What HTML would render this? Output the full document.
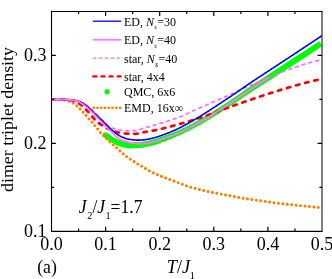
<!DOCTYPE html>
<html><head><meta charset="utf-8"><style>
html,body{margin:0;padding:0;background:#fff;}
body{width:332px;height:279px;overflow:hidden;position:relative;font-family:"Liberation Serif",serif;}
</style></head><body>
<svg width="332" height="279" viewBox="0 0 332 279" style="position:absolute;left:0;top:0;will-change:transform">
<defs><clipPath id="c"><rect x="51.5" y="11.3" width="270.5" height="220.0"/></clipPath></defs>
<g fill="none" stroke-linecap="butt" stroke-linejoin="round" clip-path="url(#c)">
<path d="M103.69,137.22 L104.24,137.66 L104.81,138.10 L105.37,138.54 L105.94,138.96 L106.50,139.37 L107.07,139.78 L107.64,140.17 L108.21,140.55 L108.78,140.92 L109.34,141.28 L109.91,141.64 L110.48,141.98 L111.05,142.31 L111.62,142.63 L112.17,142.94 L112.72,143.24 L113.28,143.55 L113.84,143.85 L114.41,144.15 L114.99,144.44 L115.58,144.72 L116.19,144.99 L116.80,145.25 L117.39,145.48 L117.96,145.69 L118.53,145.90 L119.10,146.10 L119.67,146.29 L120.25,146.48 L120.82,146.65 L121.40,146.82 L121.98,146.98 L122.56,147.14 L123.14,147.28 L123.69,147.41 L124.21,147.53 L124.74,147.66 L125.29,147.80 L125.86,147.93 L126.44,148.06 L127.05,148.18 L127.67,148.29 L128.30,148.39 L128.96,148.46 L129.64,148.50 L130.31,148.51 L130.94,148.50 L131.55,148.47 L132.14,148.42 L132.71,148.37 L133.26,148.33 L133.79,148.28 L134.29,148.24 L134.78,148.21 L135.28,148.18 L135.79,148.16 L136.32,148.14 L136.85,148.12 L137.39,148.10 L137.95,148.08 L138.50,148.05 L139.07,148.02 L139.66,147.99 L140.27,147.93 L140.89,147.87 L141.49,147.78 L142.07,147.69 L142.64,147.59 L143.20,147.49 L143.74,147.40 L144.27,147.30 L144.80,147.21 L145.35,147.11 L145.91,147.01 L146.46,146.91 L147.02,146.80 L147.57,146.69 L148.13,146.58 L148.68,146.46 L149.24,146.34 L149.80,146.22 L150.36,146.09 L150.92,145.95 L151.48,145.82 L152.03,145.68 L152.59,145.53 L153.15,145.38 L153.70,145.23 L154.26,145.08 L154.83,144.91 L155.39,144.74 L155.95,144.57 L156.51,144.39 L157.06,144.21 L157.62,144.03 L158.17,143.85 L158.71,143.66 L159.27,143.47 L159.83,143.28 L160.39,143.08 L160.94,142.87 L161.49,142.66 L162.03,142.46 L162.57,142.25 L163.11,142.04 L163.64,141.84 L164.18,141.63 L164.72,141.42 L165.26,141.21 L165.81,141.00 L166.35,140.79 L166.89,140.58 L167.43,140.37 L167.97,140.15 L168.51,139.94 L169.05,139.73 L169.59,139.51 L170.13,139.30 L170.67,139.09 L171.21,138.87 L171.75,138.65 L172.30,138.43 L172.85,138.20 L173.39,137.98 L173.94,137.75 L174.48,137.52 L175.02,137.29 L175.57,137.06 L176.11,136.82 L176.66,136.59 L177.20,136.35 L177.74,136.11 L178.29,135.87 L178.83,135.63 L179.38,135.38 L179.92,135.14 L180.47,134.89 L181.01,134.64 L181.55,134.38 L182.10,134.13 L182.65,133.87 L183.19,133.61 L183.74,133.34 L184.28,133.08 L184.83,132.81 L185.37,132.55 L185.91,132.28 L186.46,132.02 L187.00,131.76 L187.54,131.49 L188.09,131.23 L188.63,130.96 L189.17,130.69 L189.72,130.42 L190.26,130.15 L190.81,129.88 L191.36,129.60 L191.90,129.32 L192.45,129.04 L192.99,128.76 L193.54,128.48 L194.08,128.19 L194.63,127.91 L195.18,127.62 L195.73,127.33 L196.27,127.03 L196.82,126.74 L197.37,126.44 L197.92,126.13 L198.46,125.83 L199.01,125.52 L199.56,125.22 L200.10,124.91 L200.65,124.60 L201.19,124.28 L201.74,123.97 L202.29,123.65 L202.83,123.33 L203.38,123.01 L203.92,122.69 L204.47,122.36 L205.01,122.04 L205.55,121.72 L206.09,121.39 L206.63,121.07 L207.18,120.74 L207.72,120.41 L208.26,120.08 L208.81,119.75 L209.35,119.42 L209.89,119.09 L210.43,118.76 L210.97,118.43 L211.52,118.10 L212.06,117.76 L212.60,117.43 L213.14,117.09 L213.68,116.76 L214.23,116.42 L214.77,116.09 L215.31,115.75 L215.85,115.41 L216.39,115.07 L216.94,114.73 L217.48,114.39 L218.02,114.05 L218.56,113.71 L219.10,113.37 L219.64,113.03 L220.19,112.68 L220.73,112.34 L221.27,112.00 L221.81,111.65 L222.35,111.31 L222.90,110.96 L223.44,110.61 L223.98,110.27 L224.52,109.92 L225.06,109.57 L225.60,109.22 L226.14,108.87 L226.68,108.53 L227.23,108.18 L227.77,107.82 L228.31,107.47 L228.85,107.12 L229.39,106.77 L229.93,106.42 L230.47,106.06 L231.02,105.71 L231.56,105.36 L232.10,105.00 L232.65,104.64 L233.19,104.28 L233.73,103.92 L234.28,103.56 L234.82,103.20 L235.37,102.83 L235.91,102.46 L236.45,102.10 L236.99,101.73 L237.54,101.37 L238.08,101.00 L238.63,100.64 L239.17,100.27 L239.72,99.91 L240.26,99.54 L240.81,99.17 L241.35,98.81 L241.89,98.44 L242.43,98.07 L242.98,97.71 L243.52,97.34 L244.06,96.97 L244.61,96.60 L245.15,96.24 L245.69,95.87 L246.24,95.50 L246.78,95.14 L247.32,94.77 L247.86,94.41 L248.40,94.04 L248.94,93.68 L249.49,93.31 L250.03,92.95 L250.57,92.59 L251.11,92.23 L251.65,91.87 L252.19,91.51 L252.73,91.15 L253.27,90.80 L253.81,90.44 L254.35,90.09 L254.89,89.73 L255.43,89.38 L255.97,89.03 L256.51,88.68 L257.05,88.33 L257.59,87.98 L258.12,87.64 L258.66,87.29 L259.20,86.95 L259.74,86.61 L260.29,86.26 L260.83,85.92 L261.37,85.57 L261.92,85.23 L262.46,84.88 L263.00,84.53 L263.54,84.19 L264.09,83.84 L264.63,83.50 L265.17,83.15 L265.71,82.81 L266.26,82.46 L266.80,82.12 L267.34,81.77 L267.88,81.43 L268.43,81.09 L268.97,80.74 L269.51,80.40 L270.06,80.05 L270.60,79.70 L271.14,79.36 L271.68,79.01 L272.22,78.67 L272.77,78.32 L273.31,77.98 L273.85,77.63 L274.39,77.29 L274.93,76.94 L275.48,76.60 L276.02,76.25 L276.56,75.90 L277.10,75.56 L277.65,75.21 L278.19,74.87 L278.73,74.52 L279.27,74.18 L279.82,73.83 L280.36,73.48 L280.90,73.14 L281.44,72.79 L281.99,72.45 L282.53,72.10 L283.07,71.75 L283.61,71.41 L284.16,71.06 L284.70,70.71 L285.24,70.37 L285.78,70.02 L286.33,69.67 L286.87,69.33 L287.41,68.98 L287.95,68.63 L288.50,68.29 L289.04,67.94 L289.58,67.59 L290.12,67.24 L290.67,66.90 L291.21,66.55 L291.75,66.20 L292.29,65.85 L292.84,65.50 L293.38,65.15 L293.92,64.81 L294.46,64.46 L295.01,64.11 L295.55,63.76 L296.09,63.41 L296.64,63.06 L297.17,62.70 L297.71,62.35 L298.25,61.99 L298.79,61.64 L299.33,61.28 L299.87,60.93 L300.41,60.57 L300.94,60.22 L301.48,59.86 L302.02,59.50 L302.56,59.15 L303.10,58.79 L303.64,58.43 L304.18,58.08 L304.72,57.72 L305.25,57.37 L305.79,57.01 L306.33,56.65 L306.87,56.30 L307.41,55.94 L307.95,55.58 L308.49,55.23 L309.02,54.87 L309.56,54.51 L310.10,54.15 L310.64,53.80 L311.18,53.44 L311.72,53.08 L312.26,52.72 L312.80,52.37 L313.33,52.01 L313.87,51.65 L314.41,51.29 L314.95,50.94 L315.49,50.58 L316.03,50.22 L316.57,49.86 L317.10,49.50 L317.64,49.15 L318.18,48.79 L318.72,48.43 L319.26,48.07 L319.80,47.71 L320.34,47.35 L320.87,46.99 L321.41,46.64 L321.95,46.28 L322.49,45.92 L319.35,41.15 L318.80,41.50 L318.26,41.86 L317.72,42.21 L317.18,42.56 L316.64,42.92 L316.10,43.27 L315.56,43.62 L315.01,43.98 L314.47,44.33 L313.93,44.68 L313.39,45.04 L312.85,45.39 L312.31,45.74 L311.76,46.09 L311.22,46.45 L310.68,46.80 L310.14,47.15 L309.60,47.50 L309.06,47.86 L308.52,48.21 L307.97,48.56 L307.43,48.91 L306.89,49.26 L306.35,49.62 L305.81,49.97 L305.27,50.32 L304.73,50.67 L304.18,51.02 L303.64,51.37 L303.10,51.73 L302.56,52.08 L302.02,52.43 L301.48,52.78 L300.94,53.13 L300.39,53.48 L299.85,53.83 L299.31,54.18 L298.77,54.53 L298.23,54.88 L297.69,55.23 L297.15,55.59 L296.60,55.94 L296.06,56.29 L295.52,56.64 L294.98,56.99 L294.44,57.34 L293.90,57.69 L293.36,58.04 L292.82,58.39 L292.28,58.75 L291.74,59.10 L291.21,59.46 L290.67,59.81 L290.13,60.17 L289.59,60.52 L289.06,60.88 L288.52,61.23 L287.98,61.58 L287.44,61.94 L286.91,62.29 L286.37,62.65 L285.83,63.00 L285.29,63.35 L284.76,63.71 L284.22,64.06 L283.68,64.41 L283.14,64.77 L282.61,65.12 L282.07,65.47 L281.53,65.83 L280.99,66.18 L280.46,66.53 L279.92,66.88 L279.38,67.24 L278.84,67.59 L278.31,67.94 L277.77,68.29 L277.23,68.65 L276.69,69.00 L276.15,69.35 L275.62,69.70 L275.08,70.06 L274.54,70.41 L274.00,70.76 L273.47,71.11 L272.93,71.46 L272.39,71.82 L271.85,72.17 L271.31,72.52 L270.78,72.87 L270.24,73.23 L269.70,73.58 L269.16,73.93 L268.62,74.28 L268.09,74.63 L267.55,74.99 L267.01,75.34 L266.47,75.69 L265.94,76.04 L265.40,76.40 L264.86,76.75 L264.32,77.10 L263.79,77.46 L263.25,77.81 L262.71,78.16 L262.17,78.52 L261.64,78.87 L261.10,79.22 L260.56,79.58 L260.02,79.93 L259.49,80.29 L258.95,80.64 L258.41,80.99 L257.88,81.35 L257.34,81.70 L256.80,82.05 L256.26,82.41 L255.72,82.76 L255.18,83.12 L254.64,83.48 L254.10,83.84 L253.56,84.20 L253.02,84.56 L252.48,84.93 L251.94,85.29 L251.40,85.66 L250.86,86.03 L250.32,86.39 L249.78,86.76 L249.24,87.13 L248.69,87.50 L248.15,87.87 L247.61,88.25 L247.08,88.62 L246.54,88.99 L246.00,89.37 L245.46,89.74 L244.92,90.11 L244.38,90.49 L243.84,90.86 L243.31,91.24 L242.77,91.62 L242.23,91.99 L241.69,92.37 L241.16,92.74 L240.62,93.12 L240.08,93.49 L239.55,93.87 L239.01,94.24 L238.47,94.62 L237.94,94.99 L237.40,95.36 L236.86,95.74 L236.33,96.11 L235.79,96.48 L235.26,96.85 L234.72,97.22 L234.19,97.59 L233.65,97.96 L233.11,98.32 L232.57,98.68 L232.04,99.04 L231.50,99.40 L230.97,99.76 L230.43,100.11 L229.89,100.47 L229.36,100.82 L228.82,101.17 L228.28,101.53 L227.74,101.88 L227.20,102.23 L226.67,102.58 L226.13,102.93 L225.59,103.28 L225.05,103.63 L224.51,103.98 L223.97,104.32 L223.43,104.67 L222.90,105.02 L222.36,105.37 L221.82,105.71 L221.28,106.06 L220.74,106.40 L220.20,106.75 L219.66,107.09 L219.13,107.43 L218.59,107.78 L218.05,108.12 L217.51,108.46 L216.97,108.80 L216.43,109.14 L215.89,109.48 L215.36,109.82 L214.82,110.16 L214.28,110.50 L213.74,110.83 L213.20,111.17 L212.67,111.51 L212.13,111.84 L211.59,112.18 L211.05,112.51 L210.51,112.84 L209.97,113.17 L209.44,113.51 L208.90,113.84 L208.36,114.17 L207.82,114.50 L207.29,114.82 L206.75,115.15 L206.21,115.48 L205.67,115.81 L205.13,116.13 L204.60,116.46 L204.06,116.78 L203.52,117.10 L202.98,117.42 L202.45,117.75 L201.91,118.07 L201.37,118.39 L200.83,118.70 L200.30,119.02 L199.77,119.33 L199.23,119.64 L198.70,119.95 L198.17,120.26 L197.63,120.56 L197.10,120.86 L196.56,121.16 L196.03,121.46 L195.50,121.76 L194.96,122.05 L194.43,122.34 L193.90,122.63 L193.37,122.92 L192.83,123.20 L192.30,123.48 L191.77,123.76 L191.23,124.04 L190.70,124.32 L190.16,124.59 L189.63,124.87 L189.09,125.14 L188.56,125.41 L188.03,125.68 L187.49,125.94 L186.96,126.21 L186.42,126.47 L185.89,126.74 L185.35,127.00 L184.81,127.26 L184.27,127.52 L183.74,127.78 L183.20,128.04 L182.66,128.30 L182.13,128.54 L181.59,128.79 L181.06,129.03 L180.52,129.27 L179.99,129.51 L179.45,129.75 L178.92,129.98 L178.38,130.22 L177.85,130.45 L177.31,130.67 L176.78,130.90 L176.24,131.13 L175.70,131.35 L175.17,131.57 L174.63,131.79 L174.10,132.01 L173.56,132.23 L173.02,132.44 L172.49,132.65 L171.95,132.86 L171.42,133.07 L170.88,133.28 L170.35,133.49 L169.81,133.69 L169.28,133.89 L168.74,134.09 L168.20,134.29 L167.66,134.49 L167.12,134.69 L166.58,134.89 L166.04,135.09 L165.50,135.29 L164.96,135.48 L164.42,135.68 L163.88,135.88 L163.34,136.07 L162.80,136.27 L162.26,136.46 L161.72,136.65 L161.18,136.85 L160.64,137.04 L160.10,137.24 L159.56,137.43 L159.03,137.61 L158.50,137.80 L157.98,137.98 L157.46,138.16 L156.93,138.33 L156.40,138.50 L155.87,138.67 L155.34,138.84 L154.82,139.00 L154.29,139.16 L153.78,139.32 L153.26,139.46 L152.74,139.61 L152.22,139.74 L151.70,139.88 L151.17,140.01 L150.65,140.14 L150.13,140.27 L149.61,140.39 L149.09,140.51 L148.57,140.62 L148.04,140.73 L147.52,140.84 L147.00,140.94 L146.47,141.04 L145.94,141.14 L145.42,141.23 L144.89,141.32 L144.37,141.41 L143.84,141.50 L143.29,141.59 L142.74,141.68 L142.20,141.77 L141.68,141.86 L141.17,141.94 L140.67,142.01 L140.19,142.07 L139.73,142.12 L139.26,142.15 L138.77,142.17 L138.26,142.19 L137.74,142.21 L137.21,142.23 L136.67,142.24 L136.12,142.25 L135.57,142.27 L135.00,142.29 L134.42,142.32 L133.83,142.37 L133.26,142.42 L132.70,142.48 L132.17,142.53 L131.66,142.58 L131.17,142.62 L130.70,142.65 L130.25,142.66 L129.84,142.66 L129.44,142.64 L129.02,142.60 L128.57,142.54 L128.11,142.46 L127.64,142.37 L127.14,142.26 L126.63,142.15 L126.09,142.02 L125.55,141.89 L124.99,141.77 L124.46,141.65 L123.96,141.53 L123.46,141.40 L122.96,141.27 L122.46,141.13 L121.95,140.98 L121.45,140.82 L120.94,140.65 L120.43,140.48 L119.92,140.30 L119.41,140.12 L118.92,139.93 L118.45,139.74 L117.97,139.53 L117.48,139.30 L116.99,139.06 L116.48,138.80 L115.96,138.53 L115.44,138.25 L114.90,137.96 L114.38,137.67 L113.86,137.39 L113.35,137.10 L112.84,136.79 L112.33,136.48 L111.82,136.16 L111.31,135.83 L110.80,135.50 L110.29,135.15 L109.77,134.79 L109.26,134.43 L108.75,134.05 L108.23,133.66 L107.71,133.26 L107.18,132.84Z" fill="#00ff00" stroke="none"/>
<circle cx="105.44" cy="135.03" r="2.8" fill="#00ff00"/>
<path d="M51.50,99.56 L52.40,99.57 L53.31,99.57 L54.21,99.58 L55.12,99.58 L56.02,99.59 L56.93,99.61 L57.83,99.62 L58.74,99.64 L59.64,99.66 L60.55,99.69 L61.45,99.71 L62.36,99.74 L63.26,99.81 L64.17,99.95 L65.07,100.15 L65.97,100.39 L66.88,100.67 L67.78,100.97 L68.69,101.28 L69.59,101.58 L70.50,101.89 L71.40,102.25 L72.31,102.65 L73.21,103.12 L74.12,103.70 L75.02,104.41 L75.93,105.19 L76.83,105.99 L77.74,106.81 L78.64,107.67 L79.55,108.55 L80.45,109.42 L81.35,110.29 L82.26,111.19 L83.16,112.13 L84.07,113.12 L84.97,114.14 L85.88,115.19 L86.78,116.29 L87.69,117.42 L88.59,118.52 L89.50,119.54 L90.40,120.48 L91.31,121.42 L92.21,122.44 L93.12,123.53 L94.02,124.67 L94.92,125.79 L95.83,126.87 L96.73,127.93 L97.64,129.01 L98.54,130.15 L99.45,131.37 L100.35,132.52 L101.26,133.48 L102.16,134.32 L103.07,135.12 L103.97,135.95 L104.88,136.88 L105.78,137.88 L106.69,138.87 L107.59,139.80 L108.49,140.68 L109.40,141.54 L110.30,142.38 L111.21,143.22 L112.11,144.06 L113.02,144.88 L113.92,145.67 L114.83,146.40 L115.73,147.08 L116.64,147.78 L117.54,148.53 L118.45,149.38 L119.35,150.30 L120.26,151.20 L121.16,152.03 L122.07,152.83 L122.97,153.60 L123.87,154.36 L124.78,155.10 L125.68,155.82 L126.59,156.52 L127.49,157.20 L128.40,157.86 L129.30,158.50 L130.21,159.12 L131.11,159.73 L132.02,160.33 L132.92,160.92 L133.83,161.50 L134.73,162.07 L135.64,162.64 L136.54,163.20 L137.44,163.75 L138.35,164.30 L139.25,164.84 L140.16,165.37 L141.06,165.90 L141.97,166.43 L142.87,166.96 L143.78,167.50 L144.68,168.04 L145.59,168.59 L146.49,169.13 L147.40,169.67 L148.30,170.19 L149.21,170.71 L150.11,171.20 L151.02,171.68 L151.92,172.13 L152.82,172.57 L153.73,173.00 L154.63,173.42 L155.54,173.83 L156.44,174.23 L157.35,174.62 L158.25,175.01 L159.16,175.40 L160.06,175.78 L160.97,176.15 L161.87,176.52 L162.78,176.88 L163.68,177.23 L164.59,177.58 L165.49,177.93 L166.39,178.28 L167.30,178.63 L168.20,178.97 L169.11,179.32 L170.01,179.66 L170.92,179.99 L171.82,180.33 L172.73,180.66 L173.63,181.00 L174.54,181.33 L175.44,181.66 L176.35,182.00 L177.25,182.34 L178.16,182.69 L179.06,183.03 L179.96,183.38 L180.87,183.74 L181.77,184.09 L182.68,184.44 L183.58,184.78 L184.49,185.12 L185.39,185.45 L186.30,185.78 L187.20,186.09 L188.11,186.40 L189.01,186.69 L189.92,186.97 L190.82,187.24 L191.73,187.50 L192.63,187.76 L193.54,188.00 L194.44,188.25 L195.34,188.49 L196.25,188.72 L197.15,188.95 L198.06,189.17 L198.96,189.40 L199.87,189.62 L200.77,189.84 L201.68,190.05 L202.58,190.27 L203.49,190.48 L204.39,190.69 L205.30,190.89 L206.20,191.09 L207.11,191.29 L208.01,191.49 L208.91,191.68 L209.82,191.88 L210.72,192.07 L211.63,192.26 L212.53,192.45 L213.44,192.64 L214.34,192.82 L215.25,193.01 L216.15,193.19 L217.06,193.37 L217.96,193.55 L218.87,193.73 L219.77,193.91 L220.68,194.08 L221.58,194.26 L222.48,194.43 L223.39,194.60 L224.29,194.78 L225.20,194.95 L226.10,195.12 L227.01,195.28 L227.91,195.45 L228.82,195.62 L229.72,195.79 L230.63,195.95 L231.53,196.12 L232.44,196.28 L233.34,196.45 L234.25,196.61 L235.15,196.77 L236.06,196.93 L236.96,197.09 L237.86,197.25 L238.77,197.41 L239.67,197.57 L240.58,197.72 L241.48,197.88 L242.39,198.03 L243.29,198.18 L244.20,198.33 L245.10,198.48 L246.01,198.63 L246.91,198.78 L247.82,198.93 L248.72,199.08 L249.63,199.22 L250.53,199.36 L251.43,199.50 L252.34,199.64 L253.24,199.78 L254.15,199.92 L255.05,200.05 L255.96,200.18 L256.86,200.31 L257.77,200.44 L258.67,200.56 L259.58,200.69 L260.48,200.81 L261.39,200.94 L262.29,201.06 L263.20,201.19 L264.10,201.31 L265.01,201.44 L265.91,201.56 L266.81,201.69 L267.72,201.81 L268.62,201.94 L269.53,202.06 L270.43,202.19 L271.34,202.31 L272.24,202.43 L273.15,202.56 L274.05,202.68 L274.96,202.80 L275.86,202.92 L276.77,203.03 L277.67,203.15 L278.58,203.26 L279.48,203.38 L280.38,203.49 L281.29,203.60 L282.19,203.71 L283.10,203.82 L284.00,203.92 L284.91,204.03 L285.81,204.14 L286.72,204.24 L287.62,204.34 L288.53,204.45 L289.43,204.55 L290.34,204.65 L291.24,204.75 L292.15,204.84 L293.05,204.94 L293.95,205.04 L294.86,205.13 L295.76,205.22 L296.67,205.31 L297.57,205.40 L298.48,205.49 L299.38,205.58 L300.29,205.67 L301.19,205.75 L302.10,205.84 L303.00,205.93 L303.91,206.01 L304.81,206.10 L305.72,206.19 L306.62,206.27 L307.53,206.36 L308.43,206.45 L309.33,206.54 L310.24,206.63 L311.14,206.72 L312.05,206.81 L312.95,206.90 L313.86,206.99 L314.76,207.08 L315.67,207.17 L316.57,207.26 L317.48,207.35 L318.38,207.44 L319.29,207.53 L320.19,207.62 L321.10,207.71 L322.00,207.80" stroke="#ff8000" stroke-width="3.0" stroke-linecap="round" stroke-dasharray="0.01 4.45"/>
<path d="M51.50,99.56 L52.18,99.56 L52.86,99.57 L53.53,99.57 L54.21,99.57 L54.89,99.57 L55.57,99.57 L56.25,99.58 L56.92,99.58 L57.60,99.59 L58.28,99.59 L58.96,99.60 L59.64,99.60 L60.31,99.61 L60.99,99.62 L61.67,99.63 L62.35,99.64 L63.03,99.65 L63.70,99.66 L64.38,99.67 L65.06,99.68 L65.74,99.70 L66.41,99.71 L67.09,99.73 L67.77,99.74 L68.45,99.78 L69.13,99.84 L69.80,99.93 L70.48,100.04 L71.16,100.17 L71.84,100.32 L72.52,100.47 L73.19,100.63 L73.87,100.82 L74.55,101.06 L75.23,101.34 L75.91,101.65 L76.58,101.99 L77.26,102.34 L77.94,102.72 L78.62,103.12 L79.30,103.56 L79.97,104.05 L80.65,104.58 L81.33,105.14 L82.01,105.73 L82.69,106.34 L83.36,106.96 L84.04,107.58 L84.72,108.23 L85.40,108.93 L86.08,109.66 L86.75,110.41 L87.43,111.18 L88.11,111.97 L88.79,112.75 L89.46,113.52 L90.14,114.28 L90.82,115.04 L91.50,115.82 L92.18,116.61 L92.85,117.40 L93.53,118.18 L94.21,118.93 L94.89,119.66 L95.57,120.34 L96.24,120.96 L96.92,121.55 L97.60,122.11 L98.28,122.66 L98.96,123.18 L99.63,123.68 L100.31,124.17 L100.99,124.64 L101.67,125.09 L102.35,125.53 L103.02,125.96 L103.70,126.37 L104.38,126.78 L105.06,127.18 L105.74,127.56 L106.41,127.94 L107.09,128.31 L107.77,128.66 L108.45,128.99 L109.13,129.32 L109.80,129.62 L110.48,129.91 L111.16,130.18 L111.84,130.44 L112.52,130.70 L113.19,130.95 L113.87,131.19 L114.55,131.42 L115.23,131.64 L115.90,131.84 L116.58,132.03 L117.26,132.20 L117.94,132.36 L118.62,132.49 L119.29,132.63 L119.97,132.76 L120.65,132.89 L121.33,133.01 L122.01,133.13 L122.68,133.24 L123.36,133.33 L124.04,133.42 L124.72,133.49 L125.40,133.55 L126.07,133.60 L126.75,133.63 L127.43,133.65 L128.11,133.67 L128.79,133.69 L129.46,133.71 L130.14,133.73 L130.82,133.75 L131.50,133.76 L132.18,133.77 L132.85,133.78 L133.53,133.79 L134.21,133.79 L134.89,133.80 L135.57,133.79 L136.24,133.76 L136.92,133.70 L137.60,133.61 L138.28,133.50 L138.95,133.37 L139.63,133.22 L140.31,133.06 L140.99,132.89 L141.67,132.72 L142.34,132.55 L143.02,132.39 L143.70,132.24 L144.38,132.09 L145.06,131.96 L145.73,131.85 L146.41,131.75 L147.09,131.64 L147.77,131.54 L148.45,131.43 L149.12,131.32 L149.80,131.21 L150.48,131.09 L151.16,130.97 L151.84,130.85 L152.51,130.73 L153.19,130.60 L153.87,130.47 L154.55,130.34 L155.23,130.20 L155.90,130.06 L156.58,129.92 L157.26,129.78 L157.94,129.64 L158.62,129.49 L159.29,129.34 L159.97,129.18 L160.65,129.03 L161.33,128.87 L162.01,128.71 L162.68,128.55 L163.36,128.39 L164.04,128.22 L164.72,128.05 L165.39,127.88 L166.07,127.71 L166.75,127.54 L167.43,127.36 L168.11,127.18 L168.78,127.00 L169.46,126.82 L170.14,126.64 L170.82,126.45 L171.50,126.27 L172.17,126.08 L172.85,125.89 L173.53,125.71 L174.21,125.52 L174.89,125.33 L175.56,125.14 L176.24,124.96 L176.92,124.77 L177.60,124.58 L178.28,124.39 L178.95,124.20 L179.63,124.01 L180.31,123.82 L180.99,123.62 L181.67,123.43 L182.34,123.24 L183.02,123.04 L183.70,122.85 L184.38,122.65 L185.06,122.45 L185.73,122.26 L186.41,122.06 L187.09,121.86 L187.77,121.66 L188.44,121.46 L189.12,121.25 L189.80,121.05 L190.48,120.84 L191.16,120.64 L191.83,120.43 L192.51,120.22 L193.19,120.01 L193.87,119.80 L194.55,119.59 L195.22,119.38 L195.90,119.16 L196.58,118.95 L197.26,118.73 L197.94,118.51 L198.61,118.29 L199.29,118.07 L199.97,117.85 L200.65,117.62 L201.33,117.39 L202.00,117.17 L202.68,116.94 L203.36,116.70 L204.04,116.47 L204.72,116.24 L205.39,116.00 L206.07,115.76 L206.75,115.52 L207.43,115.28 L208.11,115.03 L208.78,114.79 L209.46,114.54 L210.14,114.30 L210.82,114.05 L211.49,113.80 L212.17,113.55 L212.85,113.30 L213.53,113.05 L214.21,112.80 L214.88,112.54 L215.56,112.29 L216.24,112.04 L216.92,111.78 L217.60,111.53 L218.27,111.27 L218.95,111.02 L219.63,110.76 L220.31,110.51 L220.99,110.25 L221.66,110.00 L222.34,109.74 L223.02,109.49 L223.70,109.23 L224.38,108.98 L225.05,108.72 L225.73,108.47 L226.41,108.22 L227.09,107.97 L227.77,107.72 L228.44,107.47 L229.12,107.22 L229.80,106.97 L230.48,106.72 L231.16,106.48 L231.83,106.23 L232.51,105.99 L233.19,105.75 L233.87,105.50 L234.55,105.27 L235.22,105.03 L235.90,104.79 L236.58,104.56 L237.26,104.32 L237.93,104.08 L238.61,103.85 L239.29,103.61 L239.97,103.38 L240.65,103.14 L241.32,102.91 L242.00,102.67 L242.68,102.44 L243.36,102.21 L244.04,101.97 L244.71,101.74 L245.39,101.50 L246.07,101.27 L246.75,101.04 L247.43,100.80 L248.10,100.57 L248.78,100.34 L249.46,100.11 L250.14,99.88 L250.82,99.65 L251.49,99.41 L252.17,99.18 L252.85,98.95 L253.53,98.72 L254.21,98.49 L254.88,98.27 L255.56,98.04 L256.24,97.81 L256.92,97.58 L257.60,97.35 L258.27,97.12 L258.95,96.90 L259.63,96.67 L260.31,96.45 L260.98,96.22 L261.66,95.99 L262.34,95.77 L263.02,95.55 L263.70,95.32 L264.37,95.10 L265.05,94.88 L265.73,94.65 L266.41,94.43 L267.09,94.21 L267.76,93.99 L268.44,93.77 L269.12,93.55 L269.80,93.33 L270.48,93.11 L271.15,92.90 L271.83,92.68 L272.51,92.46 L273.19,92.25 L273.87,92.03 L274.54,91.82 L275.22,91.60 L275.90,91.39 L276.58,91.18 L277.26,90.96 L277.93,90.75 L278.61,90.54 L279.29,90.33 L279.97,90.12 L280.65,89.91 L281.32,89.70 L282.00,89.50 L282.68,89.29 L283.36,89.08 L284.04,88.88 L284.71,88.67 L285.39,88.47 L286.07,88.27 L286.75,88.07 L287.42,87.86 L288.10,87.66 L288.78,87.46 L289.46,87.27 L290.14,87.07 L290.81,86.87 L291.49,86.67 L292.17,86.48 L292.85,86.28 L293.53,86.09 L294.20,85.90 L294.88,85.70 L295.56,85.51 L296.24,85.32 L296.92,85.13 L297.59,84.94 L298.27,84.76 L298.95,84.57 L299.63,84.38 L300.31,84.20 L300.98,84.02 L301.66,83.83 L302.34,83.65 L303.02,83.47 L303.70,83.29 L304.37,83.11 L305.05,82.93 L305.73,82.76 L306.41,82.58 L307.09,82.41 L307.76,82.23 L308.44,82.06 L309.12,81.89 L309.80,81.72 L310.47,81.55 L311.15,81.38 L311.83,81.21 L312.51,81.05 L313.19,80.88 L313.86,80.72 L314.54,80.56 L315.22,80.40 L315.90,80.24 L316.58,80.08 L317.25,79.92 L317.93,79.76 L318.61,79.61 L319.29,79.45 L319.97,79.30 L320.64,79.15 L321.32,79.00 L322.00,78.85" stroke="#ff0000" stroke-width="2.7" stroke-linecap="round" stroke-dasharray="3.5 5.9"/>
<path d="M51.50,99.56 L52.18,99.56 L52.86,99.56 L53.53,99.57 L54.21,99.57 L54.89,99.57 L55.57,99.57 L56.25,99.57 L56.92,99.57 L57.60,99.58 L58.28,99.58 L58.96,99.58 L59.64,99.58 L60.31,99.59 L60.99,99.59 L61.67,99.60 L62.35,99.60 L63.03,99.61 L63.70,99.61 L64.38,99.62 L65.06,99.62 L65.74,99.63 L66.41,99.64 L67.09,99.64 L67.77,99.65 L68.45,99.67 L69.13,99.69 L69.80,99.73 L70.48,99.77 L71.16,99.82 L71.84,99.88 L72.52,99.94 L73.19,100.01 L73.87,100.09 L74.55,100.21 L75.23,100.34 L75.91,100.50 L76.58,100.67 L77.26,100.86 L77.94,101.05 L78.62,101.26 L79.30,101.48 L79.97,101.74 L80.65,102.02 L81.33,102.33 L82.01,102.66 L82.69,103.01 L83.36,103.37 L84.04,103.75 L84.72,104.15 L85.40,104.59 L86.08,105.06 L86.75,105.56 L87.43,106.08 L88.11,106.62 L88.79,107.18 L89.46,107.74 L90.14,108.34 L90.82,108.97 L91.50,109.63 L92.18,110.31 L92.85,111.00 L93.53,111.69 L94.21,112.38 L94.89,113.05 L95.57,113.71 L96.24,114.37 L96.92,115.03 L97.60,115.69 L98.28,116.35 L98.96,117.02 L99.63,117.68 L100.31,118.34 L100.99,119.00 L101.67,119.66 L102.35,120.32 L103.02,120.99 L103.70,121.65 L104.38,122.31 L105.06,122.97 L105.74,123.63 L106.41,124.35 L107.09,125.08 L107.77,125.74 L108.45,126.23 L109.13,126.62 L109.80,126.97 L110.48,127.28 L111.16,127.55 L111.84,127.81 L112.52,128.05 L113.19,128.28 L113.87,128.50 L114.55,128.71 L115.23,128.92 L115.90,129.11 L116.58,129.29 L117.26,129.46 L117.94,129.61 L118.62,129.75 L119.29,129.86 L119.97,129.97 L120.65,130.07 L121.33,130.17 L122.01,130.26 L122.68,130.34 L123.36,130.41 L124.04,130.47 L124.72,130.52 L125.40,130.55 L126.07,130.58 L126.75,130.61 L127.43,130.64 L128.11,130.66 L128.79,130.68 L129.46,130.70 L130.14,130.71 L130.82,130.72 L131.50,130.71 L132.18,130.70 L132.85,130.67 L133.53,130.63 L134.21,130.58 L134.89,130.52 L135.57,130.46 L136.24,130.37 L136.92,130.26 L137.60,130.13 L138.28,129.98 L138.95,129.81 L139.63,129.60 L140.31,129.37 L140.99,129.13 L141.67,128.88 L142.34,128.62 L143.02,128.37 L143.70,128.14 L144.38,127.91 L145.06,127.70 L145.73,127.51 L146.41,127.34 L147.09,127.17 L147.77,126.99 L148.45,126.82 L149.12,126.64 L149.80,126.46 L150.48,126.28 L151.16,126.09 L151.84,125.91 L152.51,125.72 L153.19,125.53 L153.87,125.33 L154.55,125.14 L155.23,124.94 L155.90,124.74 L156.58,124.54 L157.26,124.34 L157.94,124.13 L158.62,123.92 L159.29,123.72 L159.97,123.50 L160.65,123.29 L161.33,123.09 L162.01,122.88 L162.68,122.67 L163.36,122.47 L164.04,122.26 L164.72,122.06 L165.39,121.86 L166.07,121.65 L166.75,121.45 L167.43,121.24 L168.11,121.03 L168.78,120.83 L169.46,120.62 L170.14,120.41 L170.82,120.19 L171.50,119.98 L172.17,119.76 L172.85,119.54 L173.53,119.31 L174.21,119.09 L174.89,118.86 L175.56,118.62 L176.24,118.38 L176.92,118.14 L177.60,117.89 L178.28,117.64 L178.95,117.38 L179.63,117.12 L180.31,116.84 L180.99,116.56 L181.67,116.27 L182.34,115.97 L183.02,115.67 L183.70,115.36 L184.38,115.05 L185.06,114.73 L185.73,114.41 L186.41,114.09 L187.09,113.77 L187.77,113.44 L188.44,113.11 L189.12,112.78 L189.80,112.45 L190.48,112.12 L191.16,111.79 L191.83,111.46 L192.51,111.13 L193.19,110.81 L193.87,110.49 L194.55,110.17 L195.22,109.86 L195.90,109.55 L196.58,109.25 L197.26,108.95 L197.94,108.66 L198.61,108.37 L199.29,108.08 L199.97,107.79 L200.65,107.50 L201.33,107.21 L202.00,106.92 L202.68,106.63 L203.36,106.33 L204.04,106.04 L204.72,105.75 L205.39,105.46 L206.07,105.16 L206.75,104.87 L207.43,104.58 L208.11,104.28 L208.78,103.99 L209.46,103.69 L210.14,103.40 L210.82,103.10 L211.49,102.81 L212.17,102.51 L212.85,102.21 L213.53,101.91 L214.21,101.62 L214.88,101.32 L215.56,101.02 L216.24,100.72 L216.92,100.42 L217.60,100.12 L218.27,99.81 L218.95,99.51 L219.63,99.21 L220.31,98.91 L220.99,98.60 L221.66,98.30 L222.34,98.00 L223.02,97.70 L223.70,97.39 L224.38,97.09 L225.05,96.79 L225.73,96.49 L226.41,96.18 L227.09,95.88 L227.77,95.58 L228.44,95.28 L229.12,94.97 L229.80,94.67 L230.48,94.37 L231.16,94.07 L231.83,93.76 L232.51,93.46 L233.19,93.16 L233.87,92.85 L234.55,92.55 L235.22,92.25 L235.90,91.94 L236.58,91.64 L237.26,91.34 L237.93,91.03 L238.61,90.73 L239.29,90.42 L239.97,90.12 L240.65,89.81 L241.32,89.51 L242.00,89.20 L242.68,88.90 L243.36,88.59 L244.04,88.28 L244.71,87.98 L245.39,87.67 L246.07,87.36 L246.75,87.05 L247.43,86.74 L248.10,86.44 L248.78,86.13 L249.46,85.82 L250.14,85.52 L250.82,85.21 L251.49,84.91 L252.17,84.60 L252.85,84.30 L253.53,84.00 L254.21,83.69 L254.88,83.39 L255.56,83.09 L256.24,82.79 L256.92,82.49 L257.60,82.19 L258.27,81.89 L258.95,81.60 L259.63,81.30 L260.31,81.00 L260.98,80.71 L261.66,80.41 L262.34,80.12 L263.02,79.82 L263.70,79.53 L264.37,79.24 L265.05,78.95 L265.73,78.66 L266.41,78.37 L267.09,78.08 L267.76,77.80 L268.44,77.51 L269.12,77.23 L269.80,76.94 L270.48,76.66 L271.15,76.38 L271.83,76.10 L272.51,75.82 L273.19,75.54 L273.87,75.26 L274.54,74.99 L275.22,74.71 L275.90,74.44 L276.58,74.17 L277.26,73.89 L277.93,73.62 L278.61,73.35 L279.29,73.09 L279.97,72.82 L280.65,72.56 L281.32,72.29 L282.00,72.03 L282.68,71.77 L283.36,71.51 L284.04,71.25 L284.71,70.99 L285.39,70.74 L286.07,70.48 L286.75,70.23 L287.42,69.98 L288.10,69.73 L288.78,69.48 L289.46,69.24 L290.14,68.99 L290.81,68.75 L291.49,68.51 L292.17,68.27 L292.85,68.03 L293.53,67.79 L294.20,67.56 L294.88,67.32 L295.56,67.09 L296.24,66.86 L296.92,66.63 L297.59,66.41 L298.27,66.18 L298.95,65.96 L299.63,65.74 L300.31,65.52 L300.98,65.30 L301.66,65.08 L302.34,64.87 L303.02,64.66 L303.70,64.45 L304.37,64.24 L305.05,64.04 L305.73,63.83 L306.41,63.63 L307.09,63.43 L307.76,63.23 L308.44,63.04 L309.12,62.84 L309.80,62.65 L310.47,62.46 L311.15,62.27 L311.83,62.09 L312.51,61.90 L313.19,61.72 L313.86,61.54 L314.54,61.37 L315.22,61.19 L315.90,61.02 L316.58,60.85 L317.25,60.68 L317.93,60.52 L318.61,60.35 L319.29,60.19 L319.97,60.04 L320.64,59.88 L321.32,59.73 L322.00,59.58" stroke="#ff66ff" stroke-width="1.6" stroke-dasharray="4.2 2.8"/>
<path d="M51.50,99.56 L52.18,99.56 L52.86,99.56 L53.53,99.57 L54.21,99.57 L54.89,99.57 L55.57,99.57 L56.25,99.57 L56.92,99.57 L57.60,99.58 L58.28,99.58 L58.96,99.58 L59.64,99.58 L60.31,99.59 L60.99,99.59 L61.67,99.60 L62.35,99.60 L63.03,99.61 L63.70,99.61 L64.38,99.62 L65.06,99.62 L65.74,99.63 L66.41,99.64 L67.09,99.64 L67.77,99.65 L68.45,99.67 L69.13,99.69 L69.80,99.73 L70.48,99.77 L71.16,99.82 L71.84,99.88 L72.52,99.94 L73.19,100.01 L73.87,100.09 L74.55,100.21 L75.23,100.34 L75.91,100.49 L76.58,100.66 L77.26,100.85 L77.94,101.05 L78.62,101.26 L79.30,101.49 L79.97,101.76 L80.65,102.06 L81.33,102.39 L82.01,102.75 L82.69,103.13 L83.36,103.52 L84.04,103.93 L84.72,104.37 L85.40,104.85 L86.08,105.37 L86.75,105.92 L87.43,106.49 L88.11,107.08 L88.79,107.67 L89.46,108.27 L90.14,108.90 L90.82,109.55 L91.50,110.23 L92.18,110.92 L92.85,111.62 L93.53,112.31 L94.21,113.00 L94.89,113.66 L95.57,114.31 L96.24,114.95 L96.92,115.59 L97.60,116.22 L98.28,116.85 L98.96,117.49 L99.63,118.13 L100.31,118.78 L100.99,119.43 L101.67,120.09 L102.35,120.75 L103.02,121.42 L103.70,122.08 L104.38,122.75 L105.06,123.41 L105.74,124.07 L106.41,124.74 L107.09,125.42 L107.77,126.09 L108.45,126.77 L109.13,127.44 L109.80,128.09 L110.48,128.73 L111.16,129.36 L111.84,129.97 L112.52,130.59 L113.19,131.19 L113.87,131.79 L114.55,132.36 L115.23,132.91 L115.90,133.43 L116.58,133.91 L117.26,134.37 L117.94,134.81 L118.62,135.24 L119.29,135.65 L119.97,136.03 L120.65,136.40 L121.33,136.73 L122.01,137.04 L122.68,137.34 L123.36,137.62 L124.04,137.89 L124.72,138.15 L125.40,138.38 L126.07,138.60 L126.75,138.78 L127.43,138.94 L128.11,139.09 L128.79,139.22 L129.46,139.35 L130.14,139.46 L130.82,139.56 L131.50,139.65 L132.18,139.73 L132.85,139.80 L133.53,139.86 L134.21,139.92 L134.89,139.98 L135.57,140.03 L136.24,140.08 L136.92,140.12 L137.60,140.14 L138.28,140.15 L138.95,140.14 L139.63,140.12 L140.31,140.09 L140.99,140.06 L141.67,140.01 L142.34,139.96 L143.02,139.90 L143.70,139.83 L144.38,139.76 L145.06,139.67 L145.73,139.57 L146.41,139.46 L147.09,139.35 L147.77,139.23 L148.45,139.10 L149.12,138.97 L149.80,138.83 L150.48,138.68 L151.16,138.53 L151.84,138.36 L152.51,138.20 L153.19,138.02 L153.87,137.84 L154.55,137.65 L155.23,137.46 L155.90,137.26 L156.58,137.06 L157.26,136.84 L157.94,136.63 L158.62,136.40 L159.29,136.18 L159.97,135.94 L160.65,135.70 L161.33,135.47 L162.01,135.23 L162.68,134.98 L163.36,134.74 L164.04,134.49 L164.72,134.24 L165.39,133.99 L166.07,133.74 L166.75,133.48 L167.43,133.22 L168.11,132.96 L168.78,132.69 L169.46,132.42 L170.14,132.15 L170.82,131.87 L171.50,131.59 L172.17,131.31 L172.85,131.02 L173.53,130.73 L174.21,130.43 L174.89,130.13 L175.56,129.82 L176.24,129.51 L176.92,129.20 L177.60,128.88 L178.28,128.55 L178.95,128.22 L179.63,127.89 L180.31,127.55 L180.99,127.20 L181.67,126.85 L182.34,126.49 L183.02,126.14 L183.70,125.78 L184.38,125.41 L185.06,125.05 L185.73,124.68 L186.41,124.31 L187.09,123.94 L187.77,123.56 L188.44,123.19 L189.12,122.81 L189.80,122.42 L190.48,122.04 L191.16,121.65 L191.83,121.26 L192.51,120.87 L193.19,120.47 L193.87,120.08 L194.55,119.68 L195.22,119.28 L195.90,118.87 L196.58,118.47 L197.26,118.06 L197.94,117.65 L198.61,117.24 L199.29,116.82 L199.97,116.41 L200.65,115.99 L201.33,115.56 L202.00,115.14 L202.68,114.72 L203.36,114.29 L204.04,113.86 L204.72,113.43 L205.39,113.00 L206.07,112.56 L206.75,112.13 L207.43,111.69 L208.11,111.26 L208.78,110.82 L209.46,110.38 L210.14,109.94 L210.82,109.50 L211.49,109.06 L212.17,108.62 L212.85,108.18 L213.53,107.74 L214.21,107.29 L214.88,106.85 L215.56,106.40 L216.24,105.96 L216.92,105.51 L217.60,105.06 L218.27,104.62 L218.95,104.17 L219.63,103.72 L220.31,103.27 L220.99,102.82 L221.66,102.37 L222.34,101.92 L223.02,101.47 L223.70,101.02 L224.38,100.57 L225.05,100.12 L225.73,99.67 L226.41,99.22 L227.09,98.77 L227.77,98.31 L228.44,97.86 L229.12,97.41 L229.80,96.96 L230.48,96.51 L231.16,96.06 L231.83,95.60 L232.51,95.14 L233.19,94.69 L233.87,94.23 L234.55,93.76 L235.22,93.30 L235.90,92.84 L236.58,92.37 L237.26,91.91 L237.93,91.44 L238.61,90.98 L239.29,90.51 L239.97,90.04 L240.65,89.57 L241.32,89.11 L242.00,88.64 L242.68,88.17 L243.36,87.70 L244.04,87.23 L244.71,86.77 L245.39,86.30 L246.07,85.83 L246.75,85.37 L247.43,84.90 L248.10,84.44 L248.78,83.97 L249.46,83.51 L250.14,83.05 L250.82,82.59 L251.49,82.13 L252.17,81.67 L252.85,81.22 L253.53,80.77 L254.21,80.31 L254.88,79.86 L255.56,79.42 L256.24,78.97 L256.92,78.53 L257.60,78.09 L258.27,77.65 L258.95,77.20 L259.63,76.76 L260.31,76.32 L260.98,75.88 L261.66,75.44 L262.34,75.00 L263.02,74.55 L263.70,74.11 L264.37,73.67 L265.05,73.23 L265.73,72.78 L266.41,72.34 L267.09,71.90 L267.76,71.45 L268.44,71.01 L269.12,70.57 L269.80,70.12 L270.48,69.68 L271.15,69.24 L271.83,68.79 L272.51,68.35 L273.19,67.90 L273.87,67.46 L274.54,67.01 L275.22,66.57 L275.90,66.12 L276.58,65.68 L277.26,65.23 L277.93,64.79 L278.61,64.34 L279.29,63.90 L279.97,63.45 L280.65,63.01 L281.32,62.56 L282.00,62.12 L282.68,61.67 L283.36,61.22 L284.04,60.78 L284.71,60.33 L285.39,59.88 L286.07,59.44 L286.75,58.99 L287.42,58.54 L288.10,58.10 L288.78,57.65 L289.46,57.20 L290.14,56.76 L290.81,56.31 L291.49,55.86 L292.17,55.41 L292.85,54.97 L293.53,54.52 L294.20,54.07 L294.88,53.62 L295.56,53.17 L296.24,52.73 L296.92,52.28 L297.59,51.83 L298.27,51.38 L298.95,50.93 L299.63,50.48 L300.31,50.03 L300.98,49.59 L301.66,49.14 L302.34,48.69 L303.02,48.24 L303.70,47.79 L304.37,47.34 L305.05,46.89 L305.73,46.44 L306.41,45.99 L307.09,45.54 L307.76,45.09 L308.44,44.64 L309.12,44.19 L309.80,43.74 L310.47,43.29 L311.15,42.84 L311.83,42.39 L312.51,41.94 L313.19,41.49 L313.86,41.04 L314.54,40.59 L315.22,40.13 L315.90,39.68 L316.58,39.23 L317.25,38.78 L317.93,38.33 L318.61,37.88 L319.29,37.43 L319.97,36.98 L320.64,36.52 L321.32,36.07 L322.00,35.62" stroke="#0000ff" stroke-width="1.6"/>
<path d="M51.50,99.56 L52.04,99.56 L52.59,99.56 L53.13,99.56 L53.68,99.57 L54.22,99.57 L54.77,99.57 L55.31,99.57 L55.86,99.57 L56.40,99.57 L56.95,99.57 L57.49,99.57 L58.04,99.58 L58.58,99.58 L59.13,99.58 L59.67,99.58 L60.22,99.59 L60.76,99.59 L61.31,99.59 L61.85,99.60 L62.40,99.60 L62.94,99.60 L63.49,99.61 L64.03,99.61 L64.58,99.62 L65.12,99.62 L65.66,99.63 L66.21,99.63 L66.75,99.64 L67.30,99.65 L67.84,99.65 L68.39,99.67 L68.93,99.70 L69.48,99.74 L70.02,99.78 L70.57,99.84 L71.11,99.90 L71.66,99.97 L72.20,100.05 L72.75,100.12 L73.29,100.20 L73.84,100.29 L74.38,100.40 L74.93,100.53 L75.47,100.66 L76.02,100.81 L76.56,100.98 L77.11,101.16 L77.65,101.34 L78.20,101.54 L78.74,101.75 L79.28,101.99 L79.83,102.27 L80.37,102.58 L80.92,102.92 L81.46,103.28 L82.01,103.66 L82.55,104.05 L83.10,104.44 L83.64,104.85 L84.19,105.24 L84.73,105.65 L85.28,106.08 L85.82,106.53 L86.37,106.98 L86.91,107.46 L87.46,107.94 L88.00,108.43 L88.55,108.93 L89.09,109.43 L89.64,109.93 L90.18,110.44 L90.73,110.95 L91.27,111.47 L91.81,112.00 L92.36,112.54 L92.90,113.09 L93.45,113.64 L93.99,114.19 L94.54,114.75 L95.08,115.30 L95.63,115.86 L96.17,116.41 L96.72,116.97 L97.26,117.53 L97.81,118.09 L98.35,118.65 L98.90,119.21 L99.44,119.78 L99.99,120.34 L100.53,120.90 L101.08,121.47 L101.62,122.03 L102.17,122.59 L102.71,123.15 L103.26,123.71 L103.80,124.27 L104.35,124.83 L104.89,125.39 L105.43,125.95 L105.98,126.51 L106.52,127.06 L107.07,127.61 L107.61,128.16 L108.16,128.71 L108.70,129.26 L109.25,129.81 L109.79,130.36 L110.34,130.90 L110.88,131.44 L111.43,131.98 L111.97,132.51 L112.52,133.04 L113.06,133.56 L113.61,134.09 L114.15,134.64 L114.70,135.19 L115.24,135.75 L115.79,136.28 L116.33,136.80 L116.88,137.28 L117.42,137.72 L117.97,138.11 L118.51,138.45 L119.05,138.77 L119.60,139.07 L120.14,139.36 L120.69,139.63 L121.23,139.88 L121.78,140.12 L122.32,140.35 L122.87,140.57 L123.41,140.77 L123.96,140.96 L124.50,141.15 L125.05,141.32 L125.59,141.50 L126.14,141.66 L126.68,141.82 L127.23,141.97 L127.77,142.11 L128.32,142.24 L128.86,142.36 L129.41,142.47 L129.95,142.56 L130.50,142.65 L131.04,142.74 L131.59,142.83 L132.13,142.92 L132.67,143.00 L133.22,143.07 L133.76,143.14 L134.31,143.20 L134.85,143.26 L135.40,143.31 L135.94,143.36 L136.49,143.42 L137.03,143.47 L137.58,143.52 L138.12,143.57 L138.67,143.61 L139.21,143.64 L139.76,143.67 L140.30,143.68 L140.85,143.69 L141.39,143.69 L141.94,143.68 L142.48,143.66 L143.03,143.64 L143.57,143.61 L144.12,143.56 L144.66,143.51 L145.20,143.45 L145.75,143.38 L146.29,143.30 L146.84,143.22 L147.38,143.13 L147.93,143.04 L148.47,142.94 L149.02,142.84 L149.56,142.73 L150.11,142.62 L150.65,142.50 L151.20,142.38 L151.74,142.25 L152.29,142.12 L152.83,141.98 L153.38,141.85 L153.92,141.70 L154.47,141.55 L155.01,141.40 L155.56,141.25 L156.10,141.09 L156.65,140.92 L157.19,140.76 L157.74,140.59 L158.28,140.41 L158.82,140.23 L159.37,140.05 L159.91,139.87 L160.46,139.68 L161.00,139.50 L161.55,139.31 L162.09,139.12 L162.64,138.93 L163.18,138.74 L163.73,138.55 L164.27,138.36 L164.82,138.17 L165.36,137.98 L165.91,137.79 L166.45,137.59 L167.00,137.40 L167.54,137.21 L168.09,137.02 L168.63,136.82 L169.18,136.63 L169.72,136.43 L170.27,136.23 L170.81,136.03 L171.36,135.83 L171.90,135.63 L172.44,135.42 L172.99,135.22 L173.53,135.01 L174.08,134.80 L174.62,134.58 L175.17,134.37 L175.71,134.15 L176.26,133.92 L176.80,133.70 L177.35,133.47 L177.89,133.24 L178.44,133.00 L178.98,132.76 L179.53,132.52 L180.07,132.27 L180.62,132.02 L181.16,131.77 L181.71,131.51 L182.25,131.26 L182.80,131.00 L183.34,130.74 L183.89,130.48 L184.43,130.22 L184.98,129.96 L185.52,129.70 L186.06,129.43 L186.61,129.17 L187.15,128.90 L187.70,128.63 L188.24,128.36 L188.79,128.09 L189.33,127.82 L189.88,127.55 L190.42,127.27 L190.97,126.99 L191.51,126.71 L192.06,126.43 L192.60,126.15 L193.15,125.86 L193.69,125.58 L194.24,125.29 L194.78,125.00 L195.33,124.70 L195.87,124.41 L196.42,124.11 L196.96,123.81 L197.51,123.51 L198.05,123.20 L198.60,122.89 L199.14,122.58 L199.68,122.27 L200.23,121.95 L200.77,121.64 L201.32,121.32 L201.86,121.00 L202.41,120.68 L202.95,120.35 L203.50,120.03 L204.04,119.70 L204.59,119.38 L205.13,119.05 L205.68,118.72 L206.22,118.39 L206.77,118.07 L207.31,117.74 L207.86,117.40 L208.40,117.07 L208.95,116.74 L209.49,116.41 L210.04,116.07 L210.58,115.74 L211.13,115.40 L211.67,115.07 L212.21,114.73 L212.76,114.39 L213.30,114.05 L213.85,113.71 L214.39,113.37 L214.94,113.03 L215.48,112.69 L216.03,112.35 L216.57,112.01 L217.12,111.67 L217.66,111.32 L218.21,110.98 L218.75,110.63 L219.30,110.29 L219.84,109.94 L220.39,109.59 L220.93,109.25 L221.48,108.90 L222.02,108.55 L222.57,108.20 L223.11,107.85 L223.66,107.50 L224.20,107.15 L224.75,106.80 L225.29,106.45 L225.83,106.10 L226.38,105.74 L226.92,105.39 L227.47,105.04 L228.01,104.68 L228.56,104.33 L229.10,103.98 L229.65,103.62 L230.19,103.26 L230.74,102.91 L231.28,102.55 L231.83,102.19 L232.37,101.83 L232.92,101.46 L233.46,101.10 L234.01,100.73 L234.55,100.36 L235.10,100.00 L235.64,99.63 L236.19,99.26 L236.73,98.89 L237.28,98.51 L237.82,98.14 L238.37,97.77 L238.91,97.40 L239.45,97.02 L240.00,96.65 L240.54,96.28 L241.09,95.90 L241.63,95.53 L242.18,95.15 L242.72,94.78 L243.27,94.40 L243.81,94.03 L244.36,93.66 L244.90,93.28 L245.45,92.91 L245.99,92.53 L246.54,92.16 L247.08,91.79 L247.63,91.42 L248.17,91.04 L248.72,90.67 L249.26,90.30 L249.81,89.93 L250.35,89.56 L250.90,89.20 L251.44,88.83 L251.99,88.46 L252.53,88.10 L253.07,87.74 L253.62,87.37 L254.16,87.01 L254.71,86.65 L255.25,86.29 L255.80,85.94 L256.34,85.58 L256.89,85.23 L257.43,84.87 L257.98,84.52 L258.52,84.17 L259.07,83.82 L259.61,83.46 L260.16,83.11 L260.70,82.76 L261.25,82.41 L261.79,82.05 L262.34,81.70 L262.88,81.35 L263.43,81.00 L263.97,80.64 L264.52,80.29 L265.06,79.94 L265.61,79.59 L266.15,79.23 L266.69,78.88 L267.24,78.53 L267.78,78.18 L268.33,77.83 L268.87,77.47" stroke="#ff78ff" stroke-width="1.8"/>
</g>
<g stroke="#000" fill="none">
<path d="M51.5,10.8 V231.8" stroke-width="1.1"/>
<path d="M322,10.8 V231.8" stroke-width="1.0"/>
<path d="M51.0,11.450000000000001 H322.5" stroke-width="1.1"/>
<path d="M51.0,231.4 H322.5" stroke-width="1.25"/>
<path d="M78.55,231.3 v-2.8 M78.55,11.3 v2.8 M105.60,231.3 v-4.6 M105.60,11.3 v4.6 M132.65,231.3 v-2.8 M132.65,11.3 v2.8 M159.70,231.3 v-4.6 M159.70,11.3 v4.6 M186.75,231.3 v-2.8 M186.75,11.3 v2.8 M213.80,231.3 v-4.6 M213.80,11.3 v4.6 M240.85,231.3 v-2.8 M240.85,11.3 v2.8 M267.90,231.3 v-4.6 M267.90,11.3 v4.6 M294.95,231.3 v-2.8 M294.95,11.3 v2.8 M51.5,187.30 h2.6 M322.0,187.30 h-2.6 M51.5,143.30 h4.4 M322.0,143.30 h-4.4 M51.5,99.30 h2.6 M322.0,99.30 h-2.6 M51.5,55.30 h4.4 M322.0,55.30 h-4.4" stroke-width="1.2"/>
</g>
<g fill="none">
<path d="M92.8,21.2 H121.2" stroke="#0000ff" stroke-width="1.3"/>
<path d="M92.8,39.75 H121.2" stroke="#ff78ff" stroke-width="1.75"/>
<path d="M92.8,58.1 H121.2" stroke="#ff66ff" stroke-width="1.4" stroke-dasharray="3.6 2.4"/>
<path d="M93.4,76.4 H120.8" stroke="#ff0000" stroke-width="2.4" stroke-linecap="round" stroke-dasharray="2.9 5.2"/>
<circle cx="107" cy="91.7" r="2.6" fill="#00ff00"/>
<path d="M93.7,107.8 H120.2" stroke="#ff8000" stroke-width="2.8" stroke-linecap="round" stroke-dasharray="0.01 3.76"/>
</g>
<g font-family="Liberation Serif, serif" fill="#000">
<text x="124" y="26.0" font-size="12">ED, <tspan font-style="italic">N</tspan><tspan font-style="italic" font-size="6.5" dx="0.2" dy="3.2">s</tspan><tspan dx="0.4" dy="-3.2">=30</tspan></text>
<text x="124" y="44.3" font-size="12">ED, <tspan font-style="italic">N</tspan><tspan font-style="italic" font-size="6.5" dx="0.2" dy="3.2">s</tspan><tspan dx="0.4" dy="-3.2">=40</tspan></text>
<text x="124" y="62.6" font-size="12">star, <tspan font-style="italic">N</tspan><tspan font-style="italic" font-size="8" dx="0.2" dy="4.2">s</tspan><tspan dx="0.4" dy="-4.2">=40</tspan></text>
<text x="124" y="81.2" font-size="12">star, 4x4</text>
<text x="124" y="96.4" font-size="12">QMC, 6x6</text>
<text x="124" y="112.2" font-size="12">EMD, 16x∞</text>
<text transform="translate(51.50,250.3) scale(1,1.06)" font-size="18" text-anchor="middle">0.0</text>
<text transform="translate(105.60,250.3) scale(1,1.06)" font-size="18" text-anchor="middle">0.1</text>
<text transform="translate(159.70,250.3) scale(1,1.06)" font-size="18" text-anchor="middle">0.2</text>
<text transform="translate(213.80,250.3) scale(1,1.06)" font-size="18" text-anchor="middle">0.3</text>
<text transform="translate(267.90,250.3) scale(1,1.06)" font-size="18" text-anchor="middle">0.4</text>
<text transform="translate(322.00,250.3) scale(1,1.06)" font-size="18" text-anchor="middle">0.5</text>
<text transform="translate(46.4,236.50) scale(1,1.06)" font-size="18" text-anchor="end">0.1</text>
<text transform="translate(46.4,148.50) scale(1,1.06)" font-size="18" text-anchor="end">0.2</text>
<text transform="translate(46.4,60.50) scale(1,1.06)" font-size="18" text-anchor="end">0.3</text>
<text transform="translate(13,119.5) scale(1,1.052) rotate(-90)" font-size="17" text-anchor="middle">dimer triplet density</text>
<text transform="translate(78.7,212.8) scale(1,1.04)" font-size="17.6"><tspan font-style="italic">J</tspan><tspan font-size="10.3" dx="0.8" dy="5.6">2</tspan><tspan dy="-5.6">/</tspan><tspan font-style="italic">J</tspan><tspan font-size="10.3" dx="0.3" dy="5.6">1</tspan><tspan dy="-5.6">=1.7</tspan></text>
<text transform="translate(166.7,273.0) scale(1,1.04)" font-size="18.3"><tspan font-style="italic">T</tspan>/<tspan font-style="italic">J</tspan><tspan font-size="10.5" dx="-0.2" dy="5.8">1</tspan></text>
<text transform="translate(37.2,272.7) scale(1,1.045)" font-size="17.8">(a)</text>
</g>
</svg>
</body></html>
